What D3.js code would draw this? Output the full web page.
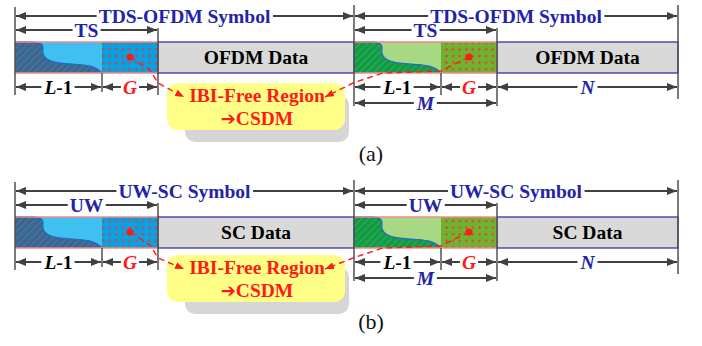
<!DOCTYPE html>
<html>
<head>
<meta charset="utf-8">
<script src="https://cdn.jsdelivr.net/npm/d3@7"></script>
<style>
  html, body { margin: 0; padding: 0; background: #fff; }
  svg { display: block; }
  text { font-family: "Liberation Serif", "Times New Roman", serif; }
</style>
</head>
<body>
<script>
// Frame structure labels
const symbolTitles = ["TDS-OFDM Symbol", "UW-SC Symbol"];
const prefixLabels = ["TS", "UW"];
const payloadLabels = ["OFDM Data", "SC Data"];
const panelTags = ["(a)", "(b)"];
const noteLines = [[{ t: "IBI-Free Region" }], [{ t: "\u2794", arrow: true }, { t: "CSDM" }]];
// Sample boundaries of two consecutive symbols:
// symbol start, end of L-1 part, end of G part, symbol end, ...
const boundaries = [0, 87, 143, 339, 426, 482, 663];

const W = 702, H = 346;
const BAR_H = 31;
const x = d3.scaleLinear().domain([0, 663]).range([15, 678]);

const svg = d3.select("body").append("svg").attr("width", W).attr("height", H);
svg.append("rect").attr("width", W).attr("height", H).attr("fill", "#fff");
const defs = svg.append("defs");

// arrowheads
function marker(id, color, len, wid) {
  defs.append("marker").attr("id", id)
    .attr("viewBox", `0 0 ${len} ${wid}`).attr("refX", len).attr("refY", wid / 2)
    .attr("markerWidth", len).attr("markerHeight", wid)
    .attr("markerUnits", "userSpaceOnUse").attr("orient", "auto-start-reverse")
    .append("path").attr("d", `M0,0L${len},${wid / 2}L0,${wid}Z`).attr("fill", color);
}
marker("arrGray", "#404040", 10, 8);
marker("arrRed", "#ff1a1a", 9, 7);

// fills for the prefix parts
const palettes = [
  { dark: "#3b6690", stripe: "#5580a8", light: "#3fc0f0", dotted: "#0ba0e0", edge: "#1f6cc0" },
  { dark: "#139a44", stripe: "#3ab564", light: "#a9d884", dotted: "#6fb232", edge: "#1f6cc0" }
];
palettes.forEach((pal, i) => {
  const h = defs.append("pattern").attr("id", "hatch" + i)
    .attr("patternUnits", "userSpaceOnUse").attr("width", 5).attr("height", 5)
    .attr("patternTransform", "rotate(45)");
  h.append("rect").attr("width", 5).attr("height", 5).attr("fill", pal.dark);
  h.append("line").attr("x1", 0).attr("y1", 0).attr("x2", 0).attr("y2", 5)
    .attr("stroke", pal.stripe).attr("stroke-width", 1.4);
  const d = defs.append("pattern").attr("id", "dots" + i)
    .attr("patternUnits", "userSpaceOnUse").attr("width", 6.6).attr("height", 6.6)
    .attr("x", 1).attr("y", 0);
  d.append("rect").attr("width", 6.6).attr("height", 6.6).attr("fill", pal.dotted);
  d.append("circle").attr("cx", 3.3).attr("cy", 3.3).attr("r", 1.1).attr("fill", "#ff2a2a");
});

// per-panel layout
const layout = [
  { barY: 42, boxY: 83, tagY: 161 },
  { barY: 217, boxY: 255, tagY: 329 }
];

const FONT = 19.5;

function dimension(g, x0, x1, y, parts, color) {
  g.append("line").attr("x1", x0 + 1).attr("x2", x1 - 1).attr("y1", y).attr("y2", y)
    .attr("stroke", "#404040").attr("stroke-width", 2)
    .attr("marker-start", "url(#arrGray)").attr("marker-end", "url(#arrGray)");
  const cx = (x0 + x1) / 2;
  const bg = g.append("rect").attr("fill", "#fff");
  const t = g.append("text").attr("x", cx).attr("y", y + 6.5)
    .attr("text-anchor", "middle").attr("font-size", FONT).attr("font-weight", "bold")
    .attr("fill", color);
  parts.forEach(p => {
    t.append("tspan").text(p.t).attr("font-style", p.i ? "italic" : "normal");
  });
  const bb = t.node().getBBox();
  bg.attr("x", bb.x - 2).attr("y", y - 2).attr("width", bb.width + 4).attr("height", 4);
}

function vline(g, xv, y0, y1) {
  g.append("line").attr("x1", xv).attr("x2", xv).attr("y1", y0).attr("y2", y1)
    .attr("stroke", "#505050").attr("stroke-width", 1.5);
}

// boundary between the channel-tail part and the rest of the L-1 section
function wavePath(x0, x1, y0, h) {
  const w = x1 - x0;
  const X = f => x0 + f * w, Y = f => y0 + f * h;
  return `M${X(0)},${Y(0)}L${X(0.2)},${Y(0)}` +
    `C${X(0.29)},${Y(0)} ${X(0.33)},${Y(0.08)} ${X(0.32)},${Y(0.25)}` +
    `C${X(0.31)},${Y(0.45)} ${X(0.35)},${Y(0.63)} ${X(0.55)},${Y(0.69)}` +
    `C${X(0.75)},${Y(0.74)} ${X(0.9)},${Y(0.7)} ${X(1)},${Y(1)}`;
}

const blue = "#2323a8", red = "#ff1a1a";

layout.forEach((L, p) => {
  const g = svg.append("g");
  const by = L.barY;

  // bars of the two symbols
  for (let s = 0; s < 2; s++) {
    const pal = palettes[s];
    const x0 = x(boundaries[3 * s]), x1 = x(boundaries[3 * s + 1]);
    const x2 = x(boundaries[3 * s + 2]), x3 = x(boundaries[3 * s + 3]);
    g.append("rect").attr("x", x2).attr("y", by).attr("width", x3 - x2).attr("height", BAR_H)
      .attr("fill", "#d9d9d9").attr("stroke", "#3333a6").attr("stroke-width", 1.3);
    g.append("rect").attr("x", x0).attr("y", by).attr("width", x1 - x0).attr("height", BAR_H)
      .attr("fill", pal.light);
    const wp = wavePath(x0, x1, by, BAR_H);
    g.append("path").attr("d", wp + `L${x0},${by + BAR_H}Z`).attr("fill", `url(#hatch${s})`);
    g.append("path").attr("d", wp).attr("fill", "none").attr("stroke", pal.edge).attr("stroke-width", 1.3);
    g.append("rect").attr("x", x1).attr("y", by).attr("width", x2 - x1).attr("height", BAR_H)
      .attr("fill", `url(#dots${s})`);
    [by, by + BAR_H].forEach(yy => g.append("line")
      .attr("x1", x0).attr("x2", x2).attr("y1", yy).attr("y2", yy)
      .attr("stroke", "#f08a8a").attr("stroke-width", 1.3));
    g.append("text").attr("x", (x2 + x3) / 2).attr("y", by + 22)
      .attr("text-anchor", "middle").attr("font-size", FONT).attr("font-weight", "bold")
      .attr("fill", "#000").text(payloadLabels[p]);
  }

  const X = boundaries.map(x);
  // extension lines
  vline(g, X[0], by - 35, by + 53);
  vline(g, X[1], by + BAR_H, by + 50);
  vline(g, X[2], by - 14, by + 53);
  vline(g, X[3], by - 37, by + 64);
  vline(g, X[4], by + BAR_H, by + 53);
  vline(g, X[5], by - 14, by + 64);
  vline(g, X[6], by - 37, by + 57);

  // dimension arrows
  for (let s = 0; s < 2; s++) {
    const a = X[3 * s], b = X[3 * s + 1], c = X[3 * s + 2], d = X[3 * s + 3];
    dimension(g, a, d, by - 26, [{ t: symbolTitles[p] }], blue);
    dimension(g, a, c, by - 12, [{ t: prefixLabels[p] }], blue);
    dimension(g, a, b, by + 45, [{ t: "L", i: true }, { t: "-1" }], "#000");
    dimension(g, b, c, by + 45, [{ t: "G", i: true }], red);
    if (s === 1) {
      dimension(g, a, c, by + 61, [{ t: "M", i: true }], blue);
      dimension(g, c, d, by + 45, [{ t: "N", i: true }], blue);
    }
  }

  // note box with shadow
  const bx0 = 167, bx1 = 345, bh = 47;
  g.append("rect").attr("x", 185).attr("y", L.boxY + 12).attr("width", 164).attr("height", bh)
    .attr("rx", 10).attr("fill", "#d6d6d6");
  g.append("rect").attr("x", bx0).attr("y", L.boxY).attr("width", bx1 - bx0).attr("height", bh)
    .attr("rx", 11).attr("fill", "#ffff88");
  noteLines.forEach((ln, i) => {
    const t = g.append("text").attr("x", (bx0 + bx1) / 2 + 1).attr("y", L.boxY + 19 + i * 23)
      .attr("text-anchor", "middle").attr("font-size", FONT).attr("font-weight", "bold")
      .attr("fill", red);
    ln.forEach(part => {
      const ts = t.append("tspan").text(part.t);
      if (part.arrow) ts.attr("font-family", "DejaVu Sans").attr("font-size", 18);
    });
  });

  // dashed pointers from the G sections to the note
  const line = d3.line();
  const gc0 = (X[1] + X[2]) / 2, gc1 = (X[4] + X[5]) / 2;
  const left = [[gc0, by + 15], [X[2] - 8, by + 28], [X[2], by + 41], [bx0 + 17, L.boxY + 14]];
  const right = [[gc1, by + 15], [X[4], by + 29], [X[4] - 58, by + 31], [X[3] - 1, by + 41], [bx1 - 20, L.boxY + 14]];
  [left, right].forEach(pts => {
    g.append("path").attr("d", line(pts)).attr("fill", "none")
      .attr("stroke", red).attr("stroke-width", 1.4).attr("stroke-dasharray", "6,4")
      .attr("marker-end", "url(#arrRed)");
    g.append("circle").attr("cx", pts[0][0]).attr("cy", pts[0][1]).attr("r", 3.6).attr("fill", red);
  });

  g.append("text").attr("x", 371).attr("y", L.tagY).attr("text-anchor", "middle")
    .attr("font-size", 22).attr("fill", "#111").text(panelTags[p]);
});
</script>
</body>
</html>
